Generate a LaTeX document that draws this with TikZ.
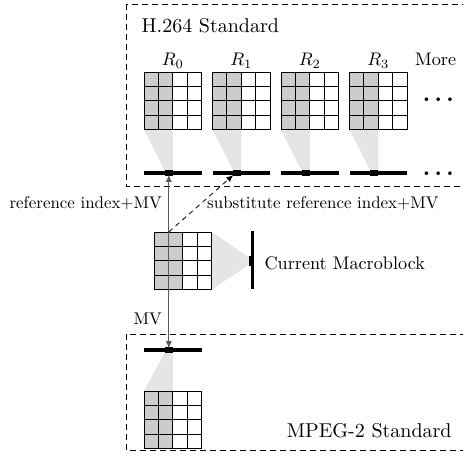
\documentclass[tikz,border=0pt]{standalone}
\usepackage{graphicx}
\usetikzlibrary{arrows.meta,calc}
\definecolor{cellgray}{gray}{0.8}
\definecolor{wedgegray}{gray}{0.9}
\definecolor{linegray}{gray}{0.35}
\newcommand{\titletxt}[1]{\scalebox{2.0}{#1}}
\newcommand{\maintxt}[1]{\scalebox{1.82}{#1}}
\newcommand{\labtxt}[1]{\scalebox{1.69}{#1}}
\newcommand{\moredots}{\scalebox{2.3}{\boldmath$\cdots$}}
\tikzset{
  mainfont/.style={font=\fontsize{10}{12}\selectfont, inner sep=0pt},
  stdbox/.style={draw, line width=0.8pt, dash pattern=on 6pt off 4pt},
  barline/.style={line width=3.5pt},
  gridline/.style={line width=0.9pt},
  mvarrow/.style={draw=linegray, line width=0.9pt, -{Latex[length=7pt,width=6pt]}},
  subarrow/.style={draw, line width=0.8pt, dash pattern=on 5pt off 4pt, -{Latex[length=7pt,width=6pt]}},
}
% name, x, y (top-left)
\newcommand{\mbgrid}[3]{%
  \fill[cellgray] (#2,#3) rectangle ++(28.8,57.6);
  \foreach \k in {0,1,2,3,4} {
    \draw[gridline] ($(#2,#3)+(14.4*\k,0)$) -- ++(0,57.6);
    \draw[gridline] ($(#2,#3)+(0,14.4*\k)$) -- ++(57.6,0);
  }
  \node[inner sep=0pt, minimum size=57.6pt, anchor=north west] (#1) at (#2,#3) {};
}
% name, x, y (centre line of bar)
\newcommand{\refbar}[3]{%
  \draw[barline] (#2,#3) -- ++(57.6,0);
  \fill ($(#2,#3)+(20.8,-2.6)$) rectangle ++(8,5.2);
  \coordinate (#1) at ($(#2,#3)+(24.8,0)$);
}
\begin{document}
\begin{tikzpicture}[x=1pt,y=-1pt]
\useasboundingbox (0,0) rectangle (463,465);
\begin{scope}
\clip (0,0) rectangle (463,465);
\draw[stdbox] (126,4) rectangle (475,186);
\draw[stdbox] (126,334) rectangle (475,450);
\end{scope}

% H.264 reference frames
\node[mainfont, anchor=base west] (h264) at (141.5,33) {\titletxt{H.264 Standard}};
\foreach \i/\x in {0/144,1/212.5,2/281,3/349.5} {
  \fill[wedgegray] (\x,129.6) -- (\x+28.8,129.6) -- (\x+28.8,171) -- (\x+20.8,171) -- cycle;
  \mbgrid{g\i}{\x}{72}
  \refbar{b\i}{\x}{173}
  \node[mainfont, anchor=base] (r\i) at (\x+28.8,65.5) {\maintxt{$R_\i$}};
}
\node[mainfont, anchor=base west] (more) at (415,65.5) {\maintxt{More}};
\node[inner sep=0pt] (dots1) at (438.3,100.3) {\moredots};
\node[inner sep=0pt] (dots2) at (438.3,174.3) {\moredots};

% current macroblock
\fill[wedgegray] (211.6,232) -- (211.6,289.6) -- (250,264) -- (250,258) -- cycle;
\mbgrid{cur}{154}{232}
\draw[barline] (252.5,231) -- (252.5,289);
\fill (249,256) rectangle (253,266);
\node[mainfont, anchor=base west] (curlab) at (264.3,269) {\maintxt{Current Macroblock}};
\coordinate (src) at ($(cur.north west)+(14.8,0)$);

% MPEG-2
\fill[wedgegray] (144,391) -- (172.8,391) -- (172.8,352) -- (165,352) -- cycle;
\mbgrid{mg}{144}{391}
\refbar{mb}{144}{350}
\node[mainfont, anchor=base west] (mpeg) at (286.7,437.5) {\titletxt{MPEG-2 Standard}};

% arrows
\draw[mvarrow] (src) -- ($(b0)+(0,1.8)$);
\draw[mvarrow] (src) -- ($(mb)+(0,-1.8)$);
\draw[subarrow] (src) -- ($(b1)+(-4,2)$);
\node[mainfont, anchor=base east] (reflab) at (162,208) {\labtxt{reference index+MV}};
\node[mainfont, anchor=base west] (sublab) at (207,208) {\labtxt{substitute reference index+MV}};
\node[mainfont, anchor=base east] (mvlab) at (162,324) {\labtxt{MV}};
\end{tikzpicture}
\end{document}
